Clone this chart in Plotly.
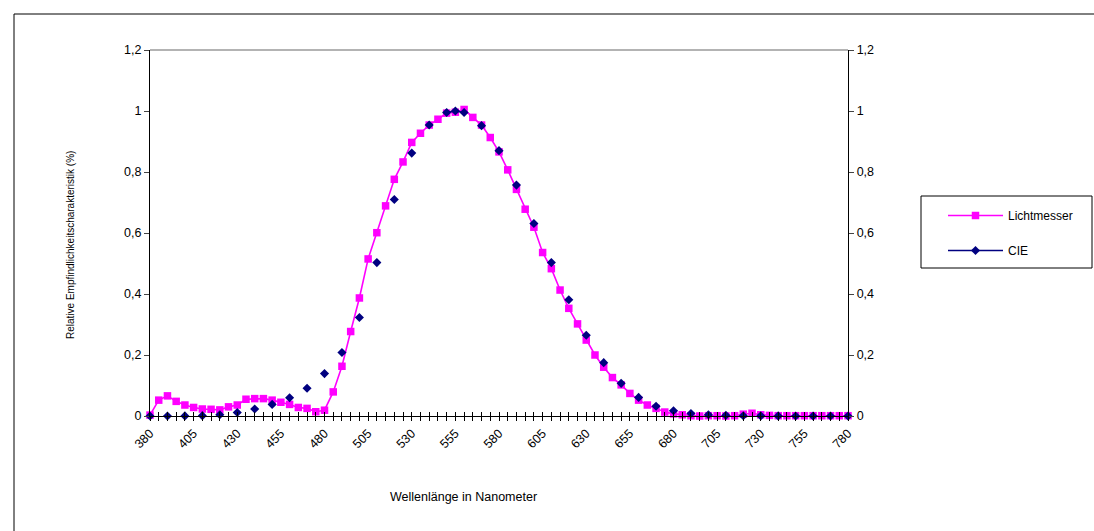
import plotly.graph_objects as go

# ---- data ----
wavelengths = list(range(380, 785, 5))
lichtmesser = [
    0.003, 0.052, 0.066, 0.048, 0.036, 0.028, 0.023, 0.022, 0.020, 0.030,
    0.036, 0.055, 0.057, 0.057, 0.052, 0.045, 0.038, 0.028, 0.025, 0.014,
    0.019, 0.079, 0.163, 0.277, 0.387, 0.515, 0.601, 0.689, 0.776, 0.833,
    0.897, 0.927, 0.954, 0.973, 0.993, 0.996, 1.005, 0.979, 0.954, 0.913,
    0.866, 0.807, 0.743, 0.678, 0.619, 0.536, 0.483, 0.413, 0.353, 0.302,
    0.249, 0.200, 0.160, 0.126, 0.102, 0.074, 0.052, 0.036, 0.025, 0.013,
    0.007, 0.004, 0.001, 0.000, 0.001, 0.001, 0.000, 0.001, 0.006, 0.009,
    0.004, 0.002, 0.001, 0.001, 0.001, 0.001, 0.001, 0.001, 0.001, 0.001,
    0.001,
]
cie_wl = [380, 390, 400, 410, 420, 430, 440, 450, 460, 470, 480, 490, 500,
          510, 520, 530, 540, 550, 555, 560, 570, 580, 590, 600, 610, 620,
          630, 640, 650, 660, 670, 680, 690, 700, 710, 720, 730, 740, 750,
          760, 770, 780]
cie_val = [0.0000, 0.0001, 0.0004, 0.0012, 0.004, 0.0116, 0.023, 0.038,
           0.060, 0.091, 0.139, 0.208, 0.323, 0.503, 0.710, 0.862, 0.954,
           0.995, 1.000, 0.995, 0.952, 0.870, 0.757, 0.631, 0.503, 0.381,
           0.265, 0.175, 0.107, 0.061, 0.032, 0.017, 0.0082, 0.0041, 0.0021,
           0.0010, 0.0005, 0.0003, 0.0001, 0.0001, 0.0000, 0.0000]
x_labels = list(range(380, 785, 25))
y_ticks = [0, 0.2, 0.4, 0.6, 0.8, 1.0, 1.2]
y_labels = ["0", "0,2", "0,4", "0,6", "0,8", "1", "1,2"]

cie_map = dict(zip(cie_wl, cie_val))
cie_full = [cie_map.get(w) for w in wavelengths]

FONT = "Liberation Sans, Arial, sans-serif"
W, H = 1094, 531
L, R, T, B = 150, 848, 50, 416

fig = go.Figure()
fig.add_trace(go.Scatter(
    x=wavelengths, y=lichtmesser, name="Lichtmesser", mode="lines+markers",
    line=dict(color="#FF00FF", width=1.6),
    marker=dict(symbol="square", size=7.5, color="#FF00FF"),
    cliponaxis=False, legendgroup="a",
))
fig.add_trace(go.Scatter(
    x=wavelengths, y=cie_full, name="CIE", mode="lines+markers",
    connectgaps=False,
    line=dict(color="#000080", width=1.6),
    marker=dict(symbol="diamond", size=7, color="#000080"),
    cliponaxis=False, legendgroup="b",
))
# helper trace for secondary axes (right y axis, inner x ticks)
fig.add_trace(go.Scatter(x=[None], y=[None], xaxis="x2", yaxis="y2",
                         showlegend=False, hoverinfo="skip"))

tick_text = [str(w) if w in x_labels else "" for w in wavelengths]
xcommon = dict(range=[380, 780], tickmode="array", tickvals=wavelengths,
               showgrid=False, zeroline=False, showline=True,
               linecolor="black", linewidth=1.3, tickcolor="black",
               ticklen=4, tickwidth=1)
fig.update_layout(
    width=W, height=H,
    margin=dict(l=L, r=W - R, t=T, b=H - B, pad=0),
    paper_bgcolor="white", plot_bgcolor="white",
    font=dict(family=FONT, size=11, color="black"),
    xaxis=dict(**xcommon, ticks="outside", ticktext=tick_text,
               tickangle=-45, tickfont=dict(size=12.5)),
    xaxis2=dict(**xcommon, ticks="inside", overlaying="x", anchor="y",
                showticklabels=False, side="bottom"),
    yaxis=dict(range=[0, 1.2], tickmode="array", tickvals=y_ticks,
               ticktext=y_labels, ticks="outside", ticklen=5,
               showgrid=False, zeroline=False, showline=True,
               linecolor="black", linewidth=1.3, tickfont=dict(size=12.5)),
    yaxis2=dict(range=[0, 1.2], tickmode="array", tickvals=y_ticks,
                ticktext=y_labels, ticks="outside", ticklen=5,
                overlaying="y", side="right", anchor="x",
                showgrid=False, zeroline=False, showline=True,
                linecolor="black", linewidth=1.3, tickfont=dict(size=12.5)),
    showlegend=True,
    legend=dict(x=(943 - L) / (R - L), y=(B - 201) / (B - T),
                xanchor="left", yanchor="top", bgcolor="rgba(0,0,0,0)",
                font=dict(size=12), itemwidth=55, tracegroupgap=16,
                traceorder="grouped"),
)

def px(xp):
    return (xp - L) / (R - L)

def py(yp):
    return (B - yp) / (B - T)

shapes = [
    # plot area top border (grey)
    dict(type="line", xref="paper", yref="paper", x0=0, x1=1, y0=1, y1=1,
         line=dict(color="#9a9a9a", width=1.3)),
    # chart area border (top and left)
    dict(type="line", xref="paper", yref="paper", x0=px(14), x1=px(1110),
         y0=py(14), y1=py(14), line=dict(color="black", width=1)),
    dict(type="line", xref="paper", yref="paper", x0=px(14), x1=px(14),
         y0=py(14), y1=py(545), line=dict(color="black", width=1)),
    # legend box
    dict(type="rect", xref="paper", yref="paper", x0=px(921), x1=px(1092),
         y0=py(268), y1=py(196), line=dict(color="black", width=1)),
]
fig.update_layout(shapes=shapes)

fig.add_annotation(text="Wellenlänge in Nanometer", xref="paper", yref="paper",
                   x=px(463), y=py(497), showarrow=False,
                   font=dict(size=12.5), xanchor="center", yanchor="middle")
fig.add_annotation(text="Relative Empfindlichkeitscharakteristik (%)",
                   xref="paper", yref="paper", x=px(70), y=py(245),
                   showarrow=False, textangle=-90, font=dict(size=10),
                   xanchor="center", yanchor="middle")

fig.write_html(
    "out.html",
    config={"displayModeBar": False},
    post_script="document.body.style.margin='0';"
                "document.body.style.overflow='hidden';",
)
